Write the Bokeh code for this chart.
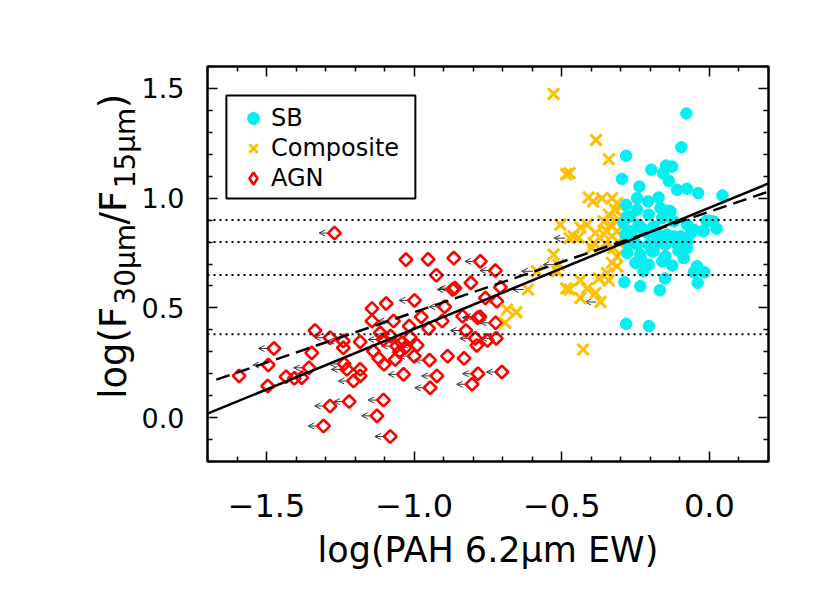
import numpy as np
from bokeh.plotting import figure
from bokeh.models import (ColumnDataSource, FixedTicker, LinearAxis, Range1d, Span,
                          Legend, LegendItem, Arrow, OpenHead, CustomLabelingPolicy,
                          BoxAnnotation)
from bokeh.embed import file_html
from bokeh.resources import INLINE

# ---------------- data ----------------
# AGN: x, y, upper-limit flag
agn_x = [-1.270, -1.028, -0.953, -0.866, -0.776, -0.725, -0.925, -0.870, -0.862, -0.808,
         -0.999, -1.095, -1.143, -0.897, -0.759, -0.720, -0.976, -0.836, -0.785, -0.777,
         -1.070, -1.143, -1.017, -0.951, -0.825, -0.724, -1.336, -1.285, -1.240, -1.183,
         -1.115, -1.104, -1.042, -1.014, -0.793, -0.788, -0.752, -0.722, -1.475, -1.347,
         -1.240, -1.138, -1.059, -1.031, -1.494, -1.356, -1.237, -1.183, -1.102, -1.064,
         -1.000, -0.948, -0.887, -0.831, -1.593, -1.434, -1.406, -1.381, -1.228, -1.205,
         -1.183, -1.036, -0.923, -0.784, -1.496, -0.946, -0.804, -1.285, -1.220, -1.104,
         -1.126, -1.307, -1.081, -0.708, -0.703, -1.080, -1.050, -0.990, -1.120, -0.905]
agn_y = [0.841, 0.720, 0.721, 0.727, 0.712, 0.670, 0.649, 0.584, 0.590, 0.614,
         0.534, 0.520, 0.497, 0.505, 0.545, 0.530, 0.459, 0.462, 0.455, 0.460,
         0.440, 0.440, 0.417, 0.406, 0.397, 0.432, 0.397, 0.364, 0.349, 0.345,
         0.386, 0.356, 0.341, 0.367, 0.361, 0.329, 0.352, 0.361, 0.315, 0.295,
         0.318, 0.303, 0.326, 0.318, 0.240, 0.227, 0.245, 0.220, 0.243, 0.265,
         0.280, 0.262, 0.280, 0.270, 0.190, 0.186, 0.179, 0.182, 0.220, 0.167,
         0.190, 0.197, 0.190, 0.200, 0.144, 0.136, 0.152, 0.053, 0.073, 0.080,
         0.008, -0.038, -0.086, 0.594, 0.208, 0.372, 0.300, 0.330, 0.270, 0.440]
agn_ul = [1, 0, 0, 0, 1, 1, 0, 1, 1, 0,
          1, 0, 0, 1, 0, 0, 0, 0, 1, 1,
          1, 0, 0, 0, 1, 1, 0, 1, 1, 0,
          0, 1, 0, 0, 1, 0, 0, 1, 1, 0,
          0, 0, 1, 0, 1, 1, 1, 0, 0, 0,
          1, 1, 0, 0, 0, 0, 0, 0, 1, 1,
          0, 1, 1, 1, 0, 1, 1, 1, 1, 1,
          1, 1, 1, 0, 1, 1, 0, 1, 0, 0]

# Composite: x, y, upper-limit flag
comp_x = [-0.528, -0.384, -0.341, -0.485, -0.474, -0.409, -0.394, -0.364, -0.330, -0.313,
          -0.319, -0.341, -0.505, -0.415, -0.437, -0.358, -0.336, -0.307, -0.460, -0.386,
          -0.358, -0.313, -0.392, -0.474, -0.443, -0.347, -0.353, -0.325, -0.398, -0.528,
          -0.511, -0.313, -0.330, -0.313, -0.584, -0.516, -0.347, -0.375, -0.341, -0.437,
          -0.615, -0.485, -0.474, -0.415, -0.386, -0.437, -0.369, -0.686, -0.654, -0.692,
          -0.428, -0.300, -0.310]
comp_y = [1.475, 1.265, 1.177, 1.109, 1.114, 1.003, 0.985, 1.000, 1.000, 0.977,
          0.947, 0.925, 0.879, 0.879, 0.867, 0.894, 0.879, 0.902, 0.826, 0.841,
          0.836, 0.849, 0.795, 0.818, 0.821, 0.849, 0.795, 0.773, 0.773, 0.743,
          0.697, 0.735, 0.705, 0.690, 0.667, 0.667, 0.659, 0.634, 0.625, 0.626,
          0.584, 0.588, 0.584, 0.588, 0.568, 0.545, 0.527, 0.493, 0.480, 0.432,
          0.311, 0.960, 0.800]
comp_ul = [0, 0, 0, 0, 0, 0, 0, 0, 0, 0,
           0, 0, 0, 0, 0, 0, 0, 0, 0, 0,
           0, 0, 0, 1, 0, 0, 0, 0, 0, 0,
           1, 0, 0, 0, 1, 0, 0, 0, 0, 0,
           1, 0, 0, 0, 0, 0, 1, 0, 0, 0,
           0, 0, 0]

# Starburst
sb_x = [-0.078, -0.095, -0.282, -0.296, -0.197, -0.157, -0.147, -0.126, -0.138, -0.237,
        -0.110, -0.076, -0.038, 0.044, -0.245, -0.208, -0.172, -0.282, -0.245, -0.166,
        -0.138, -0.268, -0.206, -0.160, -0.291, -0.240, -0.189, -0.121, -0.076, -0.010,
        0.013, 0.024, -0.019, -0.053, -0.285, -0.211, -0.143, -0.098, -0.177, -0.110,
        -0.076, -0.245, -0.132, -0.279, -0.002, -0.021, -0.262, -0.177, -0.121, -0.273,
        -0.206, -0.149, -0.076, -0.279, -0.234, -0.189, -0.149, -0.087, -0.251, -0.206,
        -0.160, -0.126, -0.223, -0.042, -0.053, -0.017, -0.288, -0.234, -0.168, -0.151,
        -0.040, -0.282, -0.205, -0.226, -0.196, -0.258, -0.105, -0.062, -0.180, -0.232]
sb_y = [1.386, 1.232, 1.193, 1.088, 1.130, 1.114, 1.149, 1.144, 1.079, 1.053,
        1.038, 1.043, 1.023, 1.012, 1.000, 0.985, 1.003, 0.970, 0.947, 0.955,
        0.943, 0.917, 0.925, 0.909, 0.886, 0.879, 0.871, 0.894, 0.879, 0.897,
        0.894, 0.861, 0.852, 0.856, 0.834, 0.841, 0.834, 0.826, 0.795, 0.791,
        0.803, 0.788, 0.940, 0.917, 0.897, 0.849, 0.849, 0.818, 0.826, 0.788,
        0.788, 0.788, 0.773, 0.750, 0.743, 0.758, 0.735, 0.727, 0.705, 0.697,
        0.712, 0.693, 0.667, 0.690, 0.662, 0.662, 0.617, 0.599, 0.580, 0.634,
        0.614, 0.427, 0.417, 0.860, 0.760, 0.810, 0.760, 0.840, 0.850, 0.720]

# fit lines and reference levels
fit_x = [-1.70, 0.20]
fit_y = [0.018, 1.067]
dash_x = [-1.67, 0.20]
dash_y = [0.173, 1.030]
level_y = [0.90, 0.80, 0.65, 0.38]

x_major = [-1.5, -1.0, -0.5, 0.0]
x_minor = [-1.7, -1.6, -1.4, -1.3, -1.2, -1.1, -0.9, -0.8, -0.7, -0.6, -0.4, -0.3, -0.2, -0.1, 0.1, 0.2]
x_labels = {-1.5: "\u22121.5", -1.0: "\u22121.0", -0.5: "\u22120.5", 0.0: "0.0"}
y_major = [0.0, 0.5, 1.0, 1.5]
y_minor = [-0.2, -0.1, 0.1, 0.2, 0.3, 0.4, 0.6, 0.7, 0.8, 0.9, 1.1, 1.2, 1.3, 1.4, 1.6]
y_labels = {0.0: "0.0", 0.5: "0.5", 1.0: "1.0", 1.5: "1.5"}

# y-axis title: main line and subscript line (aligned with no-break spaces)
NB = "\u00a0"
ytitle_main = NB * 3 + "log(F" + NB * 7 + "/F" + NB * 7 + ")"
ytitle_sub = NB * 15 + "30\u03bcm" + NB * 4 + "15\u03bcm" + NB * 2
xtitle = "log(PAH 6.2\u03bcm EW)"

FONT = "DejaVu Sans"
SB_COL = "#00F0F0"
COMP_COL = "#FFC000"
AGN_COL = "#FF0000"

# ---------------- main figure ----------------
p = figure(width=830, height=590, x_range=Range1d(-1.7, 0.2), y_range=Range1d(-0.2, 1.6),
           output_backend="svg", toolbar_location=None,
           min_border_left=207, min_border_right=62, min_border_top=66, min_border_bottom=129)
p.grid.visible = False
p.outline_line_color = "black"
p.outline_line_width = 2

def style_axis(ax, ticks, minor, labels, size, standoff, show):
    ax.ticker = FixedTicker(ticks=ticks, minor_ticks=minor)
    ax.major_tick_in = 10
    ax.major_tick_out = 0
    ax.minor_tick_in = 5
    ax.minor_tick_out = 0
    ax.major_tick_line_width = 1.5
    ax.minor_tick_line_width = 1.5
    ax.axis_line_width = 2
    ax.axis_line_color = "black"
    ax.major_tick_line_color = "black"
    ax.minor_tick_line_color = "black"
    ax.major_label_text_font = FONT
    ax.major_label_text_color = "black"
    ax.axis_label_text_font = FONT
    ax.axis_label_text_color = "black"
    ax.axis_label_text_font_style = "normal"
    if show:
        ax.major_label_overrides = labels
        ax.major_label_text_font_size = size
        ax.major_label_standoff = standoff
    else:
        ax.major_label_standoff = 0
        ax.major_label_policy = CustomLabelingPolicy(code="return []")

style_axis(p.xaxis[0], x_major, x_minor, x_labels, "32px", 32, True)
style_axis(p.yaxis[0], y_major, y_minor, y_labels, "27px", 23, True)
p.xaxis[0].axis_label = xtitle
p.xaxis[0].axis_label_text_font_size = "35px"
p.xaxis[0].axis_label_standoff = 10

# subscript line of the y title sits on the main y axis
p.yaxis[0].axis_label = ytitle_sub
p.yaxis[0].axis_label_text_font_size = "28px"
p.yaxis[0].axis_label_standoff = -3

# main line of the y title on an extra (tick-less) left axis
ytl = LinearAxis(ticker=FixedTicker(ticks=[], minor_ticks=[]), axis_line_color=None,
                 major_tick_line_color=None, minor_tick_line_color=None,
                 major_tick_in=0, major_tick_out=0, minor_tick_in=0, minor_tick_out=0,
                 major_label_standoff=0,
                 axis_label=ytitle_main, axis_label_text_font=FONT,
                 axis_label_text_font_size="37px", axis_label_text_font_style="normal",
                 axis_label_text_color="black", axis_label_standoff=-29)
p.add_layout(ytl, "left")

top = LinearAxis()
style_axis(top, x_major, x_minor, {}, None, 0, False)
p.add_layout(top, "above")
right = LinearAxis()
style_axis(right, y_major, y_minor, {}, None, 0, False)
p.add_layout(right, "right")

# upper-limit arrows
ax_ = [x for x, f in zip(agn_x, agn_ul) if f] + [x for x, f in zip(comp_x, comp_ul) if f]
ay_ = [y for y, f in zip(agn_y, agn_ul) if f] + [y for y, f in zip(comp_y, comp_ul) if f]
arr_src = ColumnDataSource(dict(x0=[x - 0.014 for x in ax_], x1=[x - 0.052 for x in ax_], y=ay_))
p.add_layout(Arrow(end=OpenHead(size=6, line_width=1, line_color="#333333"),
                   x_start="x0", y_start="y", x_end="x1", y_end="y", source=arr_src,
                   line_width=1, line_color="#333333", level="underlay"))

agn_r = p.scatter(agn_x, agn_y, marker="square", angle=np.pi / 4, size=9,
                  fill_color=None, line_color=AGN_COL, line_width=2.6)
comp_r = p.scatter(comp_x, comp_y, marker="x", size=16, line_color=COMP_COL, line_width=3)
sb_r = p.scatter(sb_x, sb_y, marker="circle", size=11.5, fill_color=SB_COL, line_color=SB_COL)

for v in level_y:
    p.add_layout(Span(location=v, dimension="width", line_color="black",
                      line_width=2, line_dash="2 4"))
p.line(fit_x, fit_y, line_color="black", line_width=2.5)
p.line(dash_x, dash_y, line_color="black", line_width=2.5, line_dash="14 7")

# legend frame (in axis units) and legend
p.add_layout(BoxAnnotation(left=-1.636, right=-0.996, top=1.468, bottom=0.998,
                           fill_color="white", fill_alpha=1.0,
                           line_color="black", line_width=2, line_alpha=1.0))
agn_leg = p.scatter([np.nan], [np.nan], marker="diamond", fill_color=None,
                    line_color=AGN_COL, line_width=2.6)
legend = Legend(items=[LegendItem(label="SB", renderers=[sb_r]),
                       LegendItem(label="Composite", renderers=[comp_r]),
                       LegendItem(label="AGN", renderers=[agn_leg])],
                location=(28, 268), margin=0, padding=6, spacing=0,
                glyph_width=36, glyph_height=30, label_standoff=0,
                label_height=30,
                label_text_font=FONT, label_text_font_size="24px", label_text_color="black",
                border_line_color=None, background_fill_alpha=0)
p.add_layout(legend)

open("out.html", "w").write(file_html(p, INLINE))
